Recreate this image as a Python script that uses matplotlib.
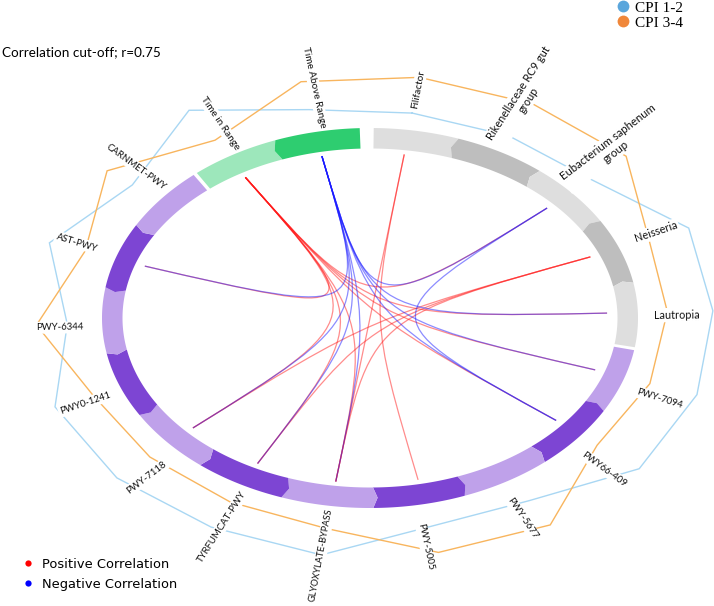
import numpy as np
import matplotlib
matplotlib.use("Agg")
import matplotlib.pyplot as plt
from matplotlib.path import Path
from matplotlib.patches import PathPatch, Polygon
from matplotlib.lines import Line2D

# ---------------- data ----------------
segments = ["Filifactor", "Rikenellaceae RC9 gut\ngroup", "Eubacterium saphenum\ngroup",
            "Neisseria", "Lautropia",
            "PWY-7094", "PWY66-409", "PWY-5677", "PWY-5005", "GLYOXYLATE-BYPASS",
            "TYRFUMCAT-PWY", "PWY-7118", "PWY0-1241", "PWY-6344", "AST-PWY", "CARNMET-PWY",
            "Time in Range", "Time Above Range"]
segment_group = ["taxa"] * 5 + ["pathway"] * 11 + ["glycemic"] * 2
segment_size = [1] * 18

# outer line tracks (radius relative to ring)
cpi_12 = [1.09, 1.09, 1.10, 1.28, 1.28, 1.285, 1.28, 1.13, 1.12, 1.26,
          1.25, 1.265, 1.265, 1.13, 1.26, 1.13, 1.285, 1.12]
cpi_34 = [1.28, 1.28, 1.28, 1.12, 1.11, 1.10, 1.08, 1.28, 1.26, 1.12,
          1.10, 1.10, 1.11, 1.245, 1.12, 1.25, 1.10, 1.27]

RIK = "Rikenellaceae RC9 gut\ngroup"
EUB = "Eubacterium saphenum\ngroup"
positive_pairs = [("Time in Range", "AST-PWY"), ("Time in Range", "PWY-7118"),
                  ("Time in Range", "TYRFUMCAT-PWY"), ("Time in Range", "GLYOXYLATE-BYPASS"),
                  ("Time in Range", "Lautropia"), ("Time in Range", "PWY-7094"),
                  ("Time in Range", "PWY66-409"), ("Time in Range", EUB),
                  ("Filifactor", "PWY-5005"), ("Filifactor", "GLYOXYLATE-BYPASS"),
                  ("Neisseria", "PWY-7118"), ("Neisseria", "TYRFUMCAT-PWY"),
                  ("Neisseria", "GLYOXYLATE-BYPASS")]
negative_pairs = [("Time Above Range", "AST-PWY"), ("Time Above Range", "PWY-7118"),
                  ("Time Above Range", "TYRFUMCAT-PWY"), ("Time Above Range", "GLYOXYLATE-BYPASS"),
                  ("Time Above Range", "Lautropia"), ("Time Above Range", "PWY-7094"),
                  ("Time Above Range", "PWY66-409"), ("Time Above Range", EUB),
                  (EUB, "PWY66-409")]

# ---------------- layout / style ----------------
W, H = 714, 606
CX, CY = 370, 318          # ellipse centre (px from top-left)
RX, RY = 268, 190          # outer radii in px
THICK = 20.5               # ring thickness px
label_dist = [41, 60, 61, 40, 39, 41, 41, 40, 42, 50, 46, 41, 39, 42, 42, 41, 34, 44]
label_shift = [0, 0, 0, 0, 0, 0, 0, 0, 0, 0, 0, 1.5, 0, 1.5, 1.5, 0.0, 0, 0]
label_size = [7.2, 7.9, 8.2, 7.9, 7.8, 6.9, 6.9, 6.9, 6.9, 6.7, 6.9, 6.9,
              6.9, 6.9, 6.9, 6.9, 7.2, 7.2]

group_colors = {"taxa": ("#dedede", "#bebebe"),
                "pathway": ("#bfa1ea", "#7d45d3"),
                "glycemic": ("#9de7bb", "#2ecd70")}

fig = plt.figure(figsize=(W / 100, H / 100), dpi=100)
ax = fig.add_axes([0, 0, 1, 1])
ax.set_xlim(-CX / RX, (W - CX) / RX)
ax.set_ylim(-(H - CY) / RY, CY / RY)
ax.axis("off")

# angles
n = len(segments)
scale = 360.0 / sum(segment_size)
base = 90.7
starts, ends = [], []
acc = 0.0
for s in segment_size:
    a0 = base - acc * scale
    acc += s
    starts.append(a0)
    ends.append(a0 - s * scale)
centers = [(a + b) / 2 for a, b in zip(starts, ends)]
boundary_after = [False] * n
for i in range(n):
    j = (i + 1) % n
    if segment_group[i] != segment_group[j]:
        g = 3.0 if (segment_group[i] == "glycemic" and segment_group[j] == "taxa") else 0.9
        ends[i] += g / 2
        starts[j] -= g / 2
        boundary_after[i] = True

ix = 1 - THICK / RX
iy = 1 - THICK / RY
TIP = 1.0   # chevron depth (deg)


def ell(t, fx, fy):
    r = np.radians(t)
    return np.column_stack([fx * np.cos(r), fy * np.sin(r)])


mid_x, mid_y = (1 + ix) / 2, (1 + iy) / 2
pos_in_group = {}
for i in range(n):
    g = segment_group[i]
    k = pos_in_group.get(g, 0)
    pos_in_group[g] = k + 1
    col = group_colors[g][k % 2]
    a0, a1 = starts[i], ends[i]
    parts = [ell(np.linspace(a0, a1, 60), 1, 1)]
    if not boundary_after[i]:
        parts.append(ell([a1 + TIP], mid_x, mid_y))
    parts.append(ell(np.linspace(a1, a0, 60), ix, iy))
    if not boundary_after[(i - 1) % n]:
        parts.append(ell([a0 + TIP], mid_x, mid_y))
    ax.add_patch(Polygon(np.vstack(parts), closed=True, fc=col, ec="none", zorder=3))

anchor = [c + 1.0 for c in centers]


# outer tracks
def track(vals, color):
    t = np.radians(anchor + [anchor[0]])
    v = np.array(vals + [vals[0]])
    ax.plot(v * np.cos(t), v * np.sin(t), color=color, lw=1.0, zorder=2,
            solid_joinstyle="miter")


track(cpi_12, "#a9d7f3")
track(cpi_34, "#f8b55e")

# chords
CR_X, CR_Y = 0.885, 0.87


def chord(a, b, color, alpha):
    ta = np.radians(anchor[segments.index(a)])
    tb = np.radians(anchor[segments.index(b)])
    p0 = (CR_X * np.cos(ta), CR_Y * np.sin(ta))
    p3 = (CR_X * np.cos(tb), CR_Y * np.sin(tb))
    path = Path([p0, (0, 0), (0, 0), p3],
                [Path.MOVETO, Path.CURVE4, Path.CURVE4, Path.CURVE4])
    ax.add_patch(PathPatch(path, fc="none", ec=color, lw=0.9, alpha=alpha, zorder=4))


for a, b in positive_pairs:
    chord(a, b, "#ff1a1a", 0.5)
for a, b in negative_pairs:
    chord(a, b, "#1a1aff", 0.5)

# labels: centred along the ellipse normal, rotated radially
for i, name in enumerate(segments):
    th = centers[i]
    r = np.radians(th)
    rp = np.radians(th + label_shift[i])
    nx, ny = np.cos(rp) / RX, np.sin(rp) / RY          # normal direction in px
    nn = np.hypot(nx, ny)
    nx, ny = nx / nn, ny / nn
    d = label_dist[i]
    x = np.cos(rp) + d * nx / RX
    y = np.sin(rp) + d * ny / RY
    pix_ang = np.degrees(np.arctan2(RY * np.sin(r), RX * np.cos(r)))
    pix_ang = th + ((pix_ang - th + 180) % 360 - 180)
    ang = 0.65 * th + 0.35 * pix_ang
    rot = ang if np.cos(r) >= 0 else ang - 180
    ax.text(x, y, name, rotation=rot, rotation_mode="anchor", ha="center", va="center",
            multialignment="center", fontsize=label_size[i], family=["Lato", "DejaVu Sans"],
            color="#111111", zorder=5, linespacing=1.05,
            bbox=dict(boxstyle="square,pad=0.15", fc="white", ec="none"))

# title
fig.text(2 / W, 1 - 52 / H, "Correlation cut-off; r=0.75", fontsize=9.7,
         family=["Lato", "DejaVu Sans"], va="center", ha="left")

# legends
h1 = [Line2D([], [], ls="", marker="o", ms=8.5, mfc="#5aa6dc", mec="none"),
      Line2D([], [], ls="", marker="o", ms=8.5, mfc="#f0873a", mec="none")]
fig.legend(h1, ["CPI 1-2", "CPI 3-4"], loc="upper left",
           bbox_to_anchor=(617 / W, 1 - 1 / H), frameon=False, borderpad=0,
           borderaxespad=0, handlelength=0.8, handletextpad=0.4, labelspacing=0.08,
           prop=dict(family="Liberation Serif", size=11))
h2 = [Line2D([], [], ls="", marker="o", ms=4.5, mfc="#ff0000", mec="none"),
      Line2D([], [], ls="", marker="o", ms=4.5, mfc="#0000ff", mec="none")]
fig.legend(h2, ["Positive Correlation", "Negative Correlation"], loc="upper left",
           bbox_to_anchor=(23 / W, 1 - 558 / H), frameon=False, borderpad=0,
           borderaxespad=0, handlelength=0.8, handletextpad=0.65, labelspacing=0.5,
           prop=dict(family="DejaVu Sans", size=9.4))

fig.savefig("out.png", dpi=100)
